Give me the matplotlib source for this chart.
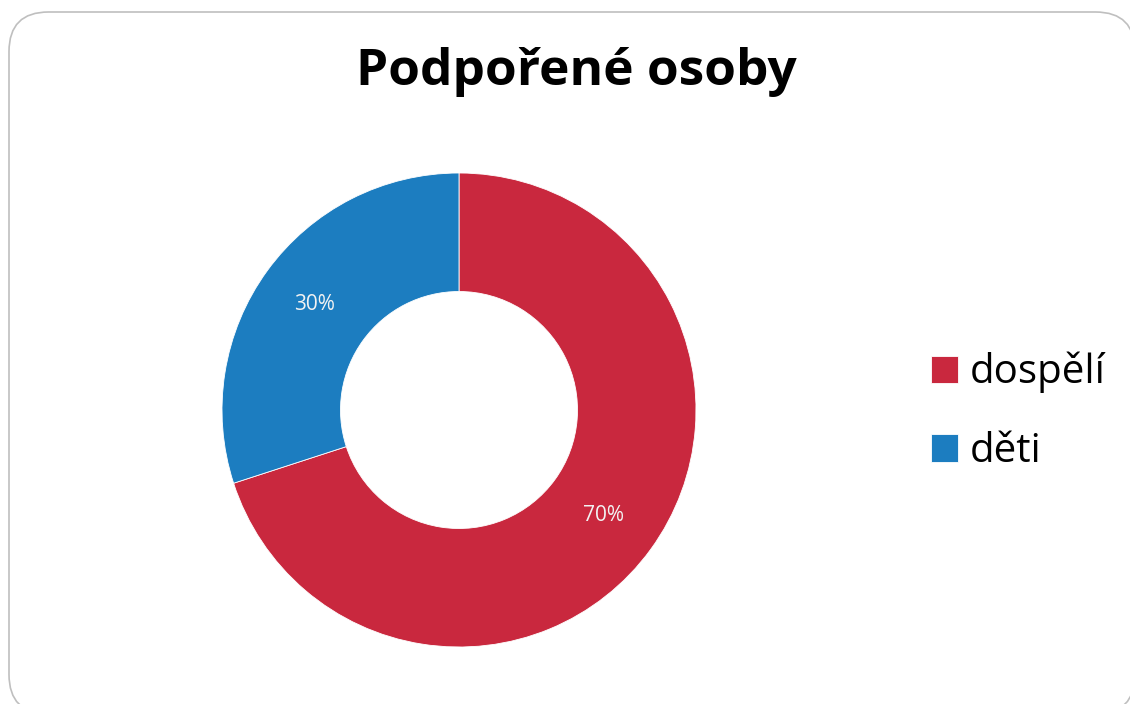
import matplotlib.pyplot as plt
from matplotlib.patches import FancyBboxPatch

# data
labels = ['dospělí', 'děti']
values = [70, 30]
colors = ['#C9283E', '#1C7DC0']
title = 'Podpořené osoby'

plt.rcParams['font.family'] = ['Open Sans', 'DejaVu Sans']

fig = plt.figure(figsize=(11.3, 7.04), dpi=100)

# rounded chart border (right/bottom cut off)
border = FancyBboxPatch((9 / 1130, -10 / 704), (1135 - 9) / 1130, (704 - 12 + 10) / 704,
                        boxstyle='round,pad=0,rounding_size=0.035',
                        transform=fig.transFigure, facecolor='white',
                        edgecolor='#BFBFBF', linewidth=1.2, mutation_aspect=1130 / 704,
                        zorder=-5)
fig.patches.append(border)

ax = fig.add_axes([(459 - 237) / 1130, (704 - 410 - 237) / 704, 474 / 1130, 474 / 704])
ax.set_zorder(2)
wedges, texts, autotexts = ax.pie(values, colors=colors, startangle=90, counterclock=False,
                                  autopct='%1.0f%%', pctdistance=0.755, radius=1.0,
                                  wedgeprops=dict(width=0.5, edgecolor='white', linewidth=0.6),
                                  textprops=dict(color='#F2F2F2', fontsize=15))
ax.set_xlim(-1, 1)
ax.set_ylim(-1, 1)
ax.set_aspect('equal')

fig.text(0.51, 1 - 72 / 704, title, ha='center', va='center', fontsize=37,
         fontweight='bold', color='black')

leg = fig.legend(wedges, labels, loc='center left', bbox_to_anchor=(915 / 1130, 1 - 412 / 704),
                 frameon=False, fontsize=29, handlelength=0.66, handleheight=0.66,
                 handletextpad=0.3, labelspacing=0.95, borderaxespad=0)
leg.set_zorder(3)

fig.savefig('out.png', dpi=100)
